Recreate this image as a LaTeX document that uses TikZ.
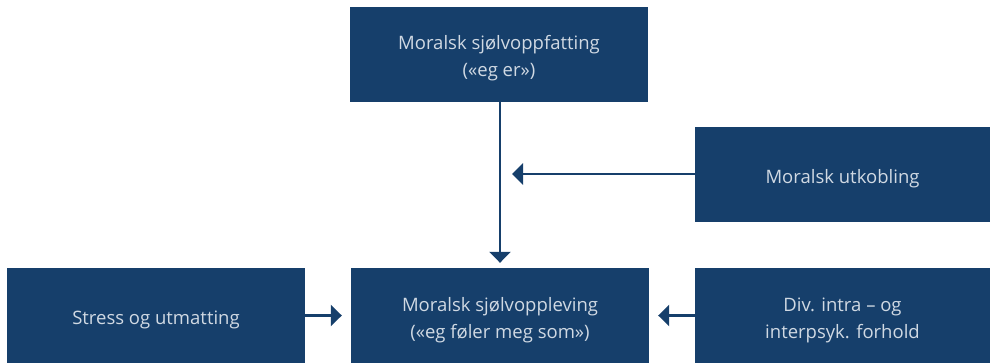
\documentclass[tikz,border=0pt]{standalone}
\usepackage{fontspec}
\setmainfont{Open Sans}
\usepackage{tikz}
\usetikzlibrary{positioning,calc,arrows.meta}

\definecolor{boxblue}{HTML}{163F6B}
\definecolor{boxtext}{HTML}{D0D9E3}

% box text, set a little below the middle
\newcommand{\factortext}[1]{\raisebox{-4pt}[\height][\depth]{\begin{tabular}{@{}c@{}}#1\end{tabular}}}

\tikzset{
  factor/.style={fill=boxblue, text=boxtext, minimum width=298pt, minimum height=95pt,
    inner sep=0pt, font=\fontsize{18.5}{27}\selectfont},
  link/.style={draw=boxblue, line width=2.5pt, -{Triangle[width=21pt,length=11pt]}}
}

\begin{document}
\begin{tikzpicture}[x=1pt,y=-1pt]
    \useasboundingbox (0,0) rectangle (990,362);
    % Top: self-concept
    \node[factor] (concept) at (499,54) {\factortext{Moralsk sjølvoppfatting\\(«eg er»)}};
    % Right middle: disengagement
    \node[factor, minimum width=295pt] (diseng) at (842.5,174) {\factortext{Moralsk utkobling}};
    % Bottom row
    \node[factor] (experience) at (500,315.5) {\factortext{Moralsk sjølvoppleving\\(«eg føler meg som»)}};
    \node[factor] (stress) at (156,315.5) {\factortext{Stress og utmatting}};
    \node[factor, minimum width=295pt] (other) at (842.5,315.5) {\factortext{Div. intra – og\\interpsyk. forhold}};
    % Arrows
    \coordinate (join) at (512,174);
    \draw[link, shorten >=5pt] (concept.south -| experience.north) -- (experience.north);
    \draw[link] (diseng.west) -- (join);
    \draw[link, shorten >=9pt] (stress.east) -- (experience.west);
    \draw[link, shorten >=9pt] (other.west) -- (experience.east);
\end{tikzpicture}
\end{document}
